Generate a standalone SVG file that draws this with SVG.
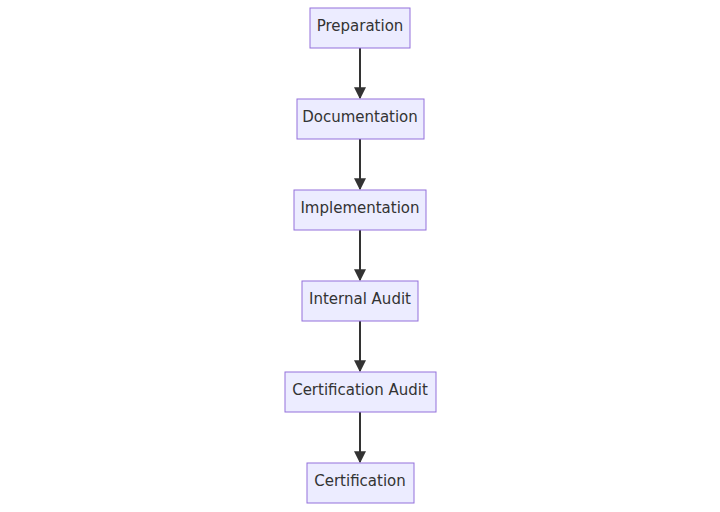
<svg xmlns="http://www.w3.org/2000/svg" width="720" height="512" viewBox="0 0 720 512">
<style>
.n rect{fill:#ECECFF;stroke:#9370DB;stroke-width:1}
text{font-family:"DejaVu Sans",sans-serif;font-size:15px;fill:#333;text-anchor:middle;dominant-baseline:central}
.e{stroke:#333;stroke-width:2;fill:none;marker-end:url(#a)}
</style>
<defs><marker id="a" viewBox="0 0 10 10" refX="9" refY="5" markerWidth="6" markerHeight="6" orient="auto" markerUnits="strokeWidth"><path d="M0,0L10,5L0,10z" fill="#333"/></marker></defs>
<rect width="720" height="512" fill="#ffffff"/>
<g id="edges">
<path class="e" d="M360,48V98"/>
<path class="e" d="M360,139V189"/>
<path class="e" d="M360,230V280"/>
<path class="e" d="M360,321V371"/>
<path class="e" d="M360,412V462"/>
</g>
<g id="n1" class="n"><rect x="310" y="8" width="100" height="40"/><text x="360" y="26">Preparation</text></g>
<g id="n2" class="n"><rect x="297" y="99" width="127" height="40"/><text x="360" y="117">Documentation</text></g>
<g id="n3" class="n"><rect x="294" y="190" width="132" height="40"/><text x="360" y="208">Implementation</text></g>
<g id="n4" class="n"><rect x="302" y="281" width="116" height="40"/><text x="360" y="299">Internal Audit</text></g>
<g id="n5" class="n"><rect x="285" y="372" width="151" height="40"/><text x="360" y="390">Certification Audit</text></g>
<g id="n6" class="n"><rect x="307" y="463" width="107" height="40"/><text x="360" y="481">Certification</text></g>
</svg>
